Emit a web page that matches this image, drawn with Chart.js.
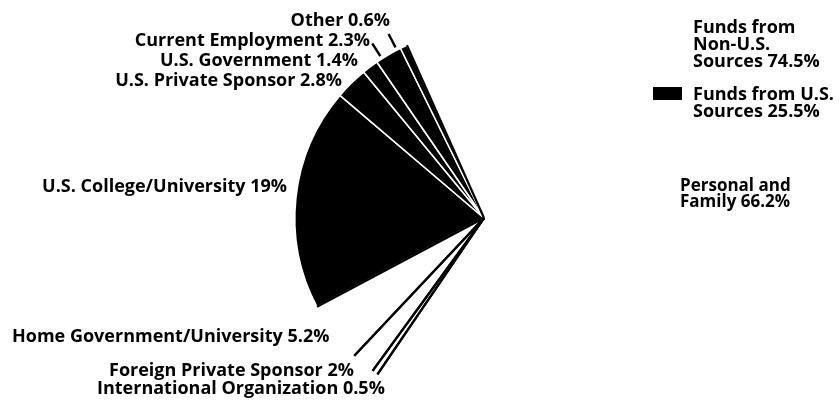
<!DOCTYPE html>
<html>
<head>
<meta charset="utf-8">
<script src="https://cdn.jsdelivr.net/npm/chart.js@4"></script>
<style>
    html, body { margin: 0; padding: 0; background: #fff; overflow: hidden; }
    #wrap { width: 840px; height: 403px; overflow: hidden; }
</style>
</head>
<body>
<div id="wrap"><canvas id="fundsChart" width="840" height="420"></canvas></div>
<script>
// Datos del gráfico (en orden horario desde el borde inferior de la parte negra)
const categories = [
    'U.S. College/University',
    'U.S. Private Sponsor',
    'U.S. Government',
    'Current Employment',
    'Other',
    'Personal and Family',
    'International Organization',
    'Foreign Private Sponsor',
    'Home Government/University'
];
const shares = [19, 2.8, 1.4, 2.3, 0.6, 66.2, 0.5, 2, 5.2];
const fundGroup = ['us', 'us', 'us', 'us', 'us', 'non', 'non', 'non', 'non'];

// Leyenda: dos grupos de fuentes
const groupNames = [['Funds from', 'Non-U.S.', 'Sources'], ['Funds from U.S.', 'Sources']];
const groupShares = [74.5, 25.5];

const FONT = 'bold 18px "Open Sans"';
const FONT_SMALL = 'bold 17px "Open Sans"';

// Dónde va el texto de cada porción (mismo orden que categories)
const labelSpots = [
    { x: 287, y: 187, align: 'right' },
    { x: 342, y: 81, align: 'right' },
    { x: 358, y: 61, align: 'right' },
    { x: 370, y: 41, align: 'right' },
    { x: 390, y: 21, align: 'right' },
    { x: 680, y: 186, align: 'left', wrap: ['Personal and', 'Family'] },
    { x: 97, y: 389, align: 'left' },
    { x: 109, y: 371, align: 'left' },
    { x: 12, y: 337, align: 'left' }
];
const leaderFor = ['Other', 'Current Employment']; // porciones con línea guía corta

const pieExtras = {
    id: 'pieExtras',
    afterDatasetsDraw(chart) {
        const ctx = chart.ctx;
        const arcs = chart.getDatasetMeta(0).data;
        ctx.save();

        // bordes radiales de las porciones blancas (sin el arco)
        ctx.strokeStyle = '#000';
        ctx.lineWidth = 2.2;
        arcs.forEach((arc, i) => {
            if (fundGroup[i] !== 'non') return;
            const p = arc.getProps(['x', 'y', 'startAngle', 'endAngle', 'outerRadius'], true);
            [p.startAngle, p.endAngle].forEach(a => {
                ctx.beginPath();
                ctx.moveTo(p.x, p.y);
                ctx.lineTo(p.x + Math.cos(a) * p.outerRadius, p.y + Math.sin(a) * p.outerRadius);
                ctx.stroke();
            });
        });

        // líneas guía cortas
        ctx.lineWidth = 2.4;
        arcs.forEach((arc, i) => {
            if (!leaderFor.includes(categories[i])) return;
            const p = arc.getProps(['x', 'y', 'startAngle', 'endAngle', 'outerRadius'], true);
            const mid = (p.startAngle + p.endAngle) / 2 - 0.04;
            ctx.beginPath();
            ctx.moveTo(p.x + Math.cos(mid) * (p.outerRadius + 3), p.y + Math.sin(mid) * (p.outerRadius + 3));
            ctx.lineTo(p.x + Math.cos(mid) * (p.outerRadius + 18), p.y + Math.sin(mid) * (p.outerRadius + 18));
            ctx.stroke();
        });

        // etiquetas de las porciones
        ctx.fillStyle = '#000';
        ctx.textBaseline = 'middle';
        categories.forEach((name, i) => {
            const spot = labelSpots[i];
            ctx.textAlign = spot.align;
            if (spot.wrap) {
                ctx.font = FONT_SMALL;
                ctx.fillText(spot.wrap[0], spot.x, spot.y);
                ctx.fillText(spot.wrap[1] + ' ' + shares[i] + '%', spot.x, spot.y + 16);
            } else {
                ctx.font = FONT;
                ctx.fillText(name + ' ' + shares[i] + '%', spot.x, spot.y);
            }
        });

        // leyenda
        ctx.font = FONT;
        ctx.textAlign = 'left';
        const legendTop = [28, 95];
        groupNames.forEach((lines, g) => {
            ctx.fillStyle = g === 0 ? '#fff' : '#000';
            ctx.fillRect(653, legendTop[g] - 8, 29, 13);
            ctx.fillStyle = '#000';
            lines.forEach((line, k) => {
                const txt = k === lines.length - 1 ? line + ' ' + groupShares[g] + '%' : line;
                ctx.fillText(txt, 693, legendTop[g] + k * 17);
            });
        });
        ctx.restore();
    }
};

const ctx = document.getElementById('fundsChart').getContext('2d');
new Chart(ctx, {
    type: 'pie',
    data: {
        labels: categories,
        datasets: [{
            data: shares,
            backgroundColor: fundGroup.map(g => g === 'us' ? '#000' : '#fff'),
            borderColor: '#fff',
            borderWidth: fundGroup.map(g => g === 'us' ? 1.6 : 0)
        }]
    },
    options: {
        responsive: false,
        animation: false,
        rotation: 242,
        layout: { padding: { left: 294, right: 166, top: 28, bottom: 12 } },
        plugins: {
            legend: { display: false },
            tooltip: { enabled: false }
        }
    },
    plugins: [pieExtras]
});
</script>
</body>
</html>
